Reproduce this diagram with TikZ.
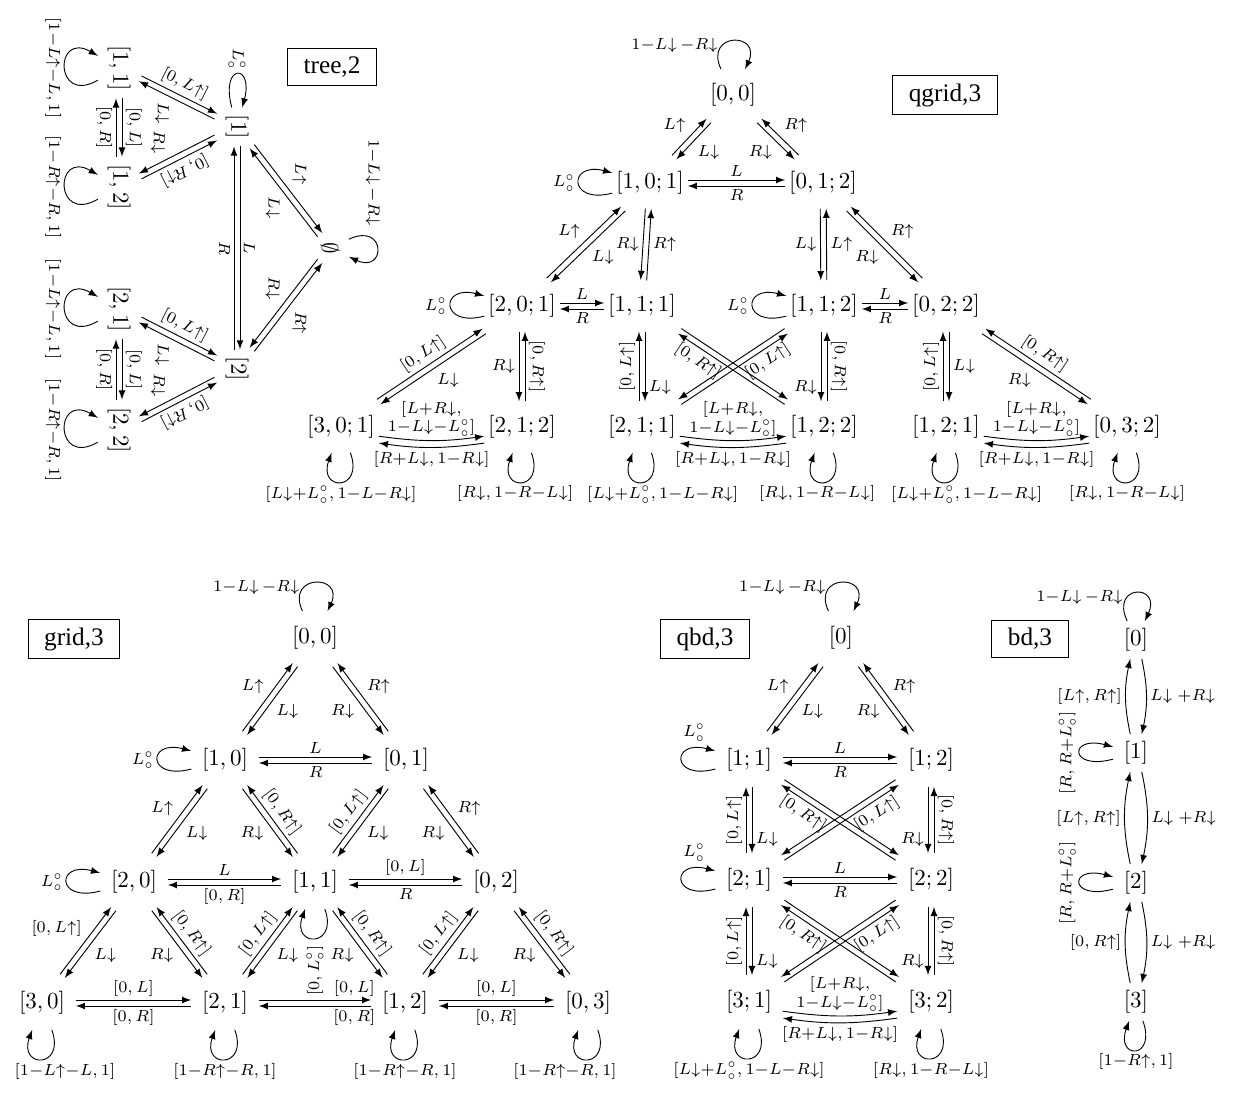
\documentclass[tikz,border=0pt]{standalone}
\usepackage{fontspec}
\newfontfamily\tagfont{Liberation Serif}
\usetikzlibrary{calc}

\begin{document}
\begin{tikzpicture}[x=0.435pt, y=0.435pt, >=latex,
	pl/.style 2 args={->, transform canvas={shift={($(#1)!1.3pt!90:(#2)-(#1)$)}}},
	pr/.style 2 args={->, transform canvas={shift={($(#1)!1.3pt!-90:(#2)-(#1)$)}}},
	lpup/.style={out=115, in=65, distance=18pt},
	lpleft/.style={out=195, in=165, distance=20pt},
	lpdown/.style={out=-70, in=-110, distance=18pt}]
	\tikzstyle{st} = [inner xsep=4.5pt, inner ysep=6.5pt]
	\tikzstyle{qst} = [inner xsep=1.5pt, inner ysep=6pt]
	\tikzstyle{tst} = [inner xsep=3pt, inner ysep=4pt]
	\tikzstyle{bst} = [inner xsep=4.5pt, inner ysep=3pt]
	\tikzstyle{tag} = [draw, font=\tagfont\fontsize{11}{13}\selectfont, inner xsep=7pt, minimum height=16pt]
	\tikzstyle{lbl} = [font=\scriptsize, inner sep=1.5pt]
	\tikzstyle{vl} = [lbl, rotate=90, anchor=south]
	\tikzstyle{vr} = [lbl, rotate=-90, anchor=south]
	\useasboundingbox (0,0) rectangle (1239,-1095);

	% tree,2 (turned on its side)
	\node[tag] at (332,-67) {tree,2};
	\begin{scope}[rotate=-90, transform shape]
		\node[tst] (t0) at (248,330) {$\emptyset$};
		\node[tst] (t1) at (127,237) {$[1]$};
		\node[tst] (t2) at (369,237) {$[2]$};
		\node[tst] (t11) at (68,119) {$[1,1]$};
		\node[tst] (t12) at (187,119) {$[1,2]$};
		\node[tst] (t21) at (309,119) {$[2,1]$};
		\node[tst] (t22) at (430,119) {$[2,2]$};
		\draw[->] (t0) to[lpup] node[lbl,left=4pt,pos=0.3]{$1{-}L{\downarrow}\,{-}R{\downarrow}$} (t0);
		\draw[->] (t1) to[lpleft] node[lbl,left]{$L^\circ_\circ$} (t1);
		\draw[pl={t1}{t0}] (t1) -- node[lbl,above left]{$L{\uparrow}$} (t0);
		\draw[pl={t0}{t1}] (t0) -- node[lbl,below right]{$L{\downarrow}$} (t1);
		\draw[pr={t2}{t0}] (t2) -- node[lbl,above right]{$R{\uparrow}$} (t0);
		\draw[pr={t0}{t2}] (t0) -- node[lbl,below left]{$R{\downarrow}$} (t2);
		\draw[pl={t1}{t2}] (t1) -- node[lbl,above]{$L$} (t2);
		\draw[pl={t2}{t1}] (t2) -- node[lbl,below]{$R$} (t1);
		\draw[pl={t11}{t1}] (t11) -- node[lbl,above,rotate=63]{$[0,L{\uparrow}]$} (t1);
		\draw[pl={t1}{t11}] (t1) -- node[lbl,below right,pos=0.55]{$L{\downarrow}$} (t11);
		\draw[pr={t12}{t1}] (t12) -- node[lbl,above,rotate=-63]{$[0,R{\uparrow}]$} (t1);
		\draw[pr={t1}{t12}] (t1) -- node[lbl,below left,pos=0.6]{$R{\downarrow}$} (t12);
		\draw[pl={t11}{t12}] (t11) -- node[lbl,above]{$[0,L]$} (t12);
		\draw[pl={t12}{t11}] (t12) -- node[lbl,below]{$[0,R]$} (t11);
		\draw[pl={t21}{t2}] (t21) -- node[lbl,above,rotate=63]{$[0,L{\uparrow}]$} (t2);
		\draw[pl={t2}{t21}] (t2) -- node[lbl,below right,pos=0.55]{$L{\downarrow}$} (t21);
		\draw[pr={t22}{t2}] (t22) -- node[lbl,above,rotate=-63]{$[0,R{\uparrow}]$} (t2);
		\draw[pr={t2}{t22}] (t2) -- node[lbl,below left,pos=0.6]{$R{\downarrow}$} (t22);
		\draw[pl={t21}{t22}] (t21) -- node[lbl,above]{$[0,L]$} (t22);
		\draw[pl={t22}{t21}] (t22) -- node[lbl,below]{$[0,R]$} (t21);
		\draw[->] (t11) to[out=-60, in=-120, distance=22pt] node[lbl,below]{$[1{-}L{\uparrow}{-}L, 1]$} (t11);
		\draw[->] (t12) to[out=-60, in=-120, distance=22pt] node[lbl,below]{$[1{-}R{\uparrow}{-}R, 1]$} (t12);
		\draw[->] (t21) to[out=-60, in=-120, distance=22pt] node[lbl,below]{$[1{-}L{\uparrow}{-}L, 1]$} (t21);
		\draw[->] (t22) to[out=-60, in=-120, distance=22pt] node[lbl,below]{$[1{-}R{\uparrow}{-}R, 1]$} (t22);
	\end{scope}

	% qgrid,3
	\node[tag] at (945,-95) {qgrid,3};
	\node[qst] (q00) at (733,-95) {$[0,0]$};
	\node[qst] (q101) at (650,-183) {$[1,0;1]$};
	\node[qst] (q012) at (823,-183) {$[0,1;2]$};
	\node[qst] (q201) at (522,-306) {$[2,0;1]$};
	\node[qst] (q111) at (642,-306) {$[1,1;1]$};
	\node[qst] (q112) at (824,-306) {$[1,1;2]$};
	\node[qst] (q022) at (946,-306) {$[0,2;2]$};
	\node[qst] (q301) at (341,-427) {$[3,0;1]$};
	\node[qst] (q212) at (522,-427) {$[2,1;2]$};
	\node[qst] (q211) at (642,-427) {$[2,1;1]$};
	\node[qst] (q122) at (824,-427) {$[1,2;2]$};
	\node[qst] (q121) at (946,-427) {$[1,2;1]$};
	\node[qst] (q032) at (1127,-427) {$[0,3;2]$};
	\draw[->] (q00) to[lpup] node[lbl,left,pos=0.3]{$1{-}L{\downarrow}\,{-}R{\downarrow}$} (q00);
	\draw[pl={q101}{q00}] (q101) -- node[lbl,above left]{$L{\uparrow}$} (q00);
	\draw[pl={q00}{q101}] (q00) -- node[lbl,below right]{$L{\downarrow}$} (q101);
	\draw[pr={q012}{q00}] (q012) -- node[lbl,above right]{$R{\uparrow}$} (q00);
	\draw[pr={q00}{q012}] (q00) -- node[lbl,below left]{$R{\downarrow}$} (q012);
	\draw[pl={q101}{q012}] (q101) -- node[lbl,above]{$L$} (q012);
	\draw[pl={q012}{q101}] (q012) -- node[lbl,below]{$R$} (q101);
	\draw[->] (q101) to[lpleft] node[lbl,left]{$L^\circ_\circ$} (q101);
	\draw[pl={q201}{q101}] (q201) -- node[lbl,above left]{$L{\uparrow}$} (q101);
	\draw[pl={q101}{q201}] (q101) -- node[lbl,below right]{$L{\downarrow}$} (q201);
	\draw[pr={q101}{q111}] (q101) -- node[lbl,left]{$R{\downarrow}$} (q111);
	\draw[pr={q111}{q101}] (q111) -- node[lbl,right]{$R{\uparrow}$} (q101);
	\draw[pr={q012}{q112}] (q012) -- node[lbl,left]{$L{\downarrow}$} (q112);
	\draw[pr={q112}{q012}] (q112) -- node[lbl,right]{$L{\uparrow}$} (q012);
	\draw[pr={q022}{q012}] (q022) -- node[lbl,above right]{$R{\uparrow}$} (q012);
	\draw[pr={q012}{q022}] (q012) -- node[lbl,below left]{$R{\downarrow}$} (q022);
	\draw[->] (q201) to[lpleft] node[lbl,left]{$L^\circ_\circ$} (q201);
	\draw[->] (q112) to[lpleft] node[lbl,left]{$L^\circ_\circ$} (q112);
	\draw[pl={q201}{q111}] (q201) -- node[lbl,above]{$L$} (q111);
	\draw[pl={q111}{q201}] (q111) -- node[lbl,below]{$R$} (q201);
	\draw[pl={q112}{q022}] (q112) -- node[lbl,above]{$L$} (q022);
	\draw[pl={q022}{q112}] (q022) -- node[lbl,below]{$R$} (q112);
	\draw[pl={q301}{q201}] (q301) -- node[lbl,sloped,above]{$[0,L{\uparrow}]$} (q201);
	\draw[pl={q201}{q301}] (q201) -- node[lbl,below right]{$L{\downarrow}$} (q301);
	\draw[pr={q201}{q212}] (q201) -- node[lbl,left]{$R{\downarrow}$} (q212);
	\draw[pr={q212}{q201}] (q212) -- node[vr]{$[0,R{\uparrow}]$} (q201);
	\draw[pl={q211}{q111}] (q211) -- node[vl]{$[0,L{\uparrow}]$} (q111);
	\draw[pl={q111}{q211}] (q111) -- node[lbl,right,pos=0.8]{$L{\downarrow}$} (q211);
	\draw[pl={q122}{q111}] (q122) -- node[lbl,sloped,below,pos=0.75]{$[0,R{\uparrow}]$} (q111);
	\draw[pl={q111}{q122}] (q111) -- (q122);
	\draw[pr={q211}{q112}] (q211) -- node[lbl,sloped,below,pos=0.75]{$[0,L{\uparrow}]$} (q112);
	\draw[pr={q112}{q211}] (q112) -- (q211);
	\draw[pr={q112}{q122}] (q112) -- node[lbl,left,pos=0.8]{$R{\downarrow}$} (q122);
	\draw[pr={q122}{q112}] (q122) -- node[vr]{$[0,R{\uparrow}]$} (q112);
	\draw[pl={q121}{q022}] (q121) -- node[vl]{$[0,L{\uparrow}]$} (q022);
	\draw[pl={q022}{q121}] (q022) -- node[lbl,right]{$L{\downarrow}$} (q121);
	\draw[pr={q032}{q022}] (q032) -- node[lbl,sloped,above]{$[0,R{\uparrow}]$} (q022);
	\draw[pr={q022}{q032}] (q022) -- node[lbl,below left]{$R{\downarrow}$} (q032);
	\draw[->] ([yshift=-4pt]q301.east) to[bend right=8] node[lbl,above,align=center]{$[L{+}R{\downarrow},$\\$1{-}L{\downarrow}{-}L^\circ_\circ]$} ([yshift=-4pt]q212.west);
	\draw[->] ([yshift=-7pt]q212.west) to[bend left=8] node[lbl,below]{$[R{+}L{\downarrow}, 1{-}R{\downarrow}]$} ([yshift=-7pt]q301.east);
	\draw[->] ([yshift=-4pt]q211.east) to[bend right=8] node[lbl,above,align=center]{$[L{+}R{\downarrow},$\\$1{-}L{\downarrow}{-}L^\circ_\circ]$} ([yshift=-4pt]q122.west);
	\draw[->] ([yshift=-7pt]q122.west) to[bend left=8] node[lbl,below]{$[R{+}L{\downarrow}, 1{-}R{\downarrow}]$} ([yshift=-7pt]q211.east);
	\draw[->] ([yshift=-4pt]q121.east) to[bend right=8] node[lbl,above,align=center]{$[L{+}R{\downarrow},$\\$1{-}L{\downarrow}{-}L^\circ_\circ]$} ([yshift=-4pt]q032.west);
	\draw[->] ([yshift=-7pt]q032.west) to[bend left=8] node[lbl,below]{$[R{+}L{\downarrow}, 1{-}R{\downarrow}]$} ([yshift=-7pt]q121.east);
	\draw[->] (q301) to[lpdown] node[lbl,below]{$[L{\downarrow}{+}L^\circ_\circ, 1{-}L{-}R{\downarrow}]$} (q301);
	\draw[->] (q212) to[lpdown] node[lbl,below,xshift=-3pt]{$[R{\downarrow}, 1{-}R{-}L{\downarrow}]$} (q212);
	\draw[->] (q211) to[lpdown] node[lbl,below,xshift=9pt]{$[L{\downarrow}{+}L^\circ_\circ, 1{-}L{-}R{\downarrow}]$} (q211);
	\draw[->] (q122) to[lpdown] node[lbl,below,xshift=-3pt]{$[R{\downarrow}, 1{-}R{-}L{\downarrow}]$} (q122);
	\draw[->] (q121) to[lpdown] node[lbl,below,xshift=9pt]{$[L{\downarrow}{+}L^\circ_\circ, 1{-}L{-}R{\downarrow}]$} (q121);
	\draw[->] (q032) to[lpdown] node[lbl,below]{$[R{\downarrow}, 1{-}R{-}L{\downarrow}]$} (q032);

	% grid,3
	\node[tag] at (74,-639) {grid,3};
	\node[st] (g00) at (315,-638) {$[0,0]$};
	\node[st] (g10) at (225,-760) {$[1,0]$};
	\node[st] (g01) at (406,-760) {$[0,1]$};
	\node[st] (g20) at (134,-882) {$[2,0]$};
	\node[st] (g11) at (315,-882) {$[1,1]$};
	\node[st] (g02) at (496,-882) {$[0,2]$};
	\node[st] (g30) at (42,-1003) {$[3,0]$};
	\node[st] (g21) at (225,-1003) {$[2,1]$};
	\node[st] (g12) at (405,-1003) {$[1,2]$};
	\node[st] (g03) at (588,-1003) {$[0,3]$};
	\draw[->] (g00) to[lpup] node[lbl,left,pos=0.3]{$1{-}L{\downarrow}\,{-}R{\downarrow}$} (g00);
	\draw[pl={g10}{g00}] (g10) -- node[lbl,above left]{$L{\uparrow}$} (g00);
	\draw[pl={g00}{g10}] (g00) -- node[lbl,below right]{$L{\downarrow}$} (g10);
	\draw[pr={g01}{g00}] (g01) -- node[lbl,above right]{$R{\uparrow}$} (g00);
	\draw[pr={g00}{g01}] (g00) -- node[lbl,below left]{$R{\downarrow}$} (g01);
	\draw[pl={g10}{g01}] (g10) -- node[lbl,above]{$L$} (g01);
	\draw[pl={g01}{g10}] (g01) -- node[lbl,below]{$R$} (g10);
	\draw[->] (g10) to[lpleft] node[lbl,left]{$L^\circ_\circ$} (g10);
	\draw[pl={g20}{g10}] (g20) -- node[lbl,above left]{$L{\uparrow}$} (g10);
	\draw[pl={g10}{g20}] (g10) -- node[lbl,below right]{$L{\downarrow}$} (g20);
	\draw[pr={g11}{g10}] (g11) -- node[lbl,sloped,above]{$[0,R{\uparrow}]$} (g10);
	\draw[pr={g10}{g11}] (g10) -- node[lbl,below left]{$R{\downarrow}$} (g11);
	\draw[pl={g11}{g01}] (g11) -- node[lbl,sloped,above]{$[0,L{\uparrow}]$} (g01);
	\draw[pl={g01}{g11}] (g01) -- node[lbl,below right]{$L{\downarrow}$} (g11);
	\draw[pr={g02}{g01}] (g02) -- node[lbl,above right]{$R{\uparrow}$} (g01);
	\draw[pr={g01}{g02}] (g01) -- node[lbl,below left]{$R{\downarrow}$} (g02);
	\draw[->] (g20) to[lpleft] node[lbl,left]{$L^\circ_\circ$} (g20);
	\draw[pl={g20}{g11}] (g20) -- node[lbl,above]{$L$} (g11);
	\draw[pl={g11}{g20}] (g11) -- node[lbl,below]{$[0,R]$} (g20);
	\draw[pl={g11}{g02}] (g11) -- node[lbl,above]{$[0,L]$} (g02);
	\draw[pl={g02}{g11}] (g02) -- node[lbl,below]{$R$} (g11);
	\draw[->] (g11) to[lpdown] node[lbl,rotate=90,anchor=east,inner sep=3pt]{$[0,L^\circ_\circ]$} (g11);
	\draw[pl={g30}{g20}] (g30) -- node[lbl,above left]{$[0,L{\uparrow}]$} (g20);
	\draw[pl={g20}{g30}] (g20) -- node[lbl,below right]{$L{\downarrow}$} (g30);
	\draw[pr={g21}{g20}] (g21) -- node[lbl,sloped,above]{$[0,R{\uparrow}]$} (g20);
	\draw[pr={g20}{g21}] (g20) -- node[lbl,below left]{$R{\downarrow}$} (g21);
	\draw[pl={g21}{g11}] (g21) -- node[lbl,sloped,above]{$[0,L{\uparrow}]$} (g11);
	\draw[pl={g11}{g21}] (g11) -- node[lbl,below right]{$L{\downarrow}$} (g21);
	\draw[pr={g12}{g11}] (g12) -- node[lbl,sloped,above]{$[0,R{\uparrow}]$} (g11);
	\draw[pr={g11}{g12}] (g11) -- node[lbl,below left]{$R{\downarrow}$} (g12);
	\draw[pl={g12}{g02}] (g12) -- node[lbl,sloped,above]{$[0,L{\uparrow}]$} (g02);
	\draw[pl={g02}{g12}] (g02) -- node[lbl,below right]{$L{\downarrow}$} (g12);
	\draw[pr={g03}{g02}] (g03) -- node[lbl,sloped,above]{$[0,R{\uparrow}]$} (g02);
	\draw[pr={g02}{g03}] (g02) -- node[lbl,below left]{$R{\downarrow}$} (g03);
	\draw[pl={g30}{g21}] (g30) -- node[lbl,above]{$[0,L]$} (g21);
	\draw[pl={g21}{g30}] (g21) -- node[lbl,below]{$[0,R]$} (g30);
	\draw[pl={g21}{g12}] (g21) -- node[lbl,above,pos=0.85]{$[0,L]$} (g12);
	\draw[pl={g12}{g21}] (g12) -- node[lbl,below,pos=0.15]{$[0,R]$} (g21);
	\draw[pl={g12}{g03}] (g12) -- node[lbl,above]{$[0,L]$} (g03);
	\draw[pl={g03}{g12}] (g03) -- node[lbl,below]{$[0,R]$} (g12);
	\draw[->] (g30) to[lpdown] node[lbl,below,xshift=10pt]{$[1{-}L{\uparrow}{-}L, 1]$} (g30);
	\draw[->] (g21) to[lpdown] node[lbl,below]{$[1{-}R{\uparrow}{-}R, 1]$} (g21);
	\draw[->] (g12) to[lpdown] node[lbl,below]{$[1{-}R{\uparrow}{-}R, 1]$} (g12);
	\draw[->] (g03) to[lpdown] node[lbl,below,xshift=-10pt]{$[1{-}R{\uparrow}{-}R, 1]$} (g03);

	% qbd,3
	\node[tag] at (705,-639) {qbd,3};
	\node[st] (b0) at (841,-638) {$[0]$};
	\node[st] (b11) at (749,-760) {$[1;1]$};
	\node[st] (b12) at (931,-760) {$[1;2]$};
	\node[st] (b21) at (749,-880) {$[2;1]$};
	\node[st] (b22) at (931,-880) {$[2;2]$};
	\node[st] (b31) at (749,-1002) {$[3;1]$};
	\node[st] (b32) at (931,-1002) {$[3;2]$};
	\draw[->] (b0) to[lpup] node[lbl,left,pos=0.3]{$1{-}L{\downarrow}\,{-}R{\downarrow}$} (b0);
	\draw[pl={b11}{b0}] (b11) -- node[lbl,above left]{$L{\uparrow}$} (b0);
	\draw[pl={b0}{b11}] (b0) -- node[lbl,below right]{$L{\downarrow}$} (b11);
	\draw[pr={b12}{b0}] (b12) -- node[lbl,above right]{$R{\uparrow}$} (b0);
	\draw[pr={b0}{b12}] (b0) -- node[lbl,below left]{$R{\downarrow}$} (b12);
	\draw[->] (b11) to[lpleft] node[lbl,above,pos=0.7,yshift=3pt,xshift=3pt]{$L^\circ_\circ$} (b11);
	\draw[->] (b21) to[lpleft] node[lbl,above,pos=0.7,yshift=3pt,xshift=3pt]{$L^\circ_\circ$} (b21);
	\draw[pl={b11}{b12}] (b11) -- node[lbl,above]{$L$} (b12);
	\draw[pl={b12}{b11}] (b12) -- node[lbl,below]{$R$} (b11);
	\draw[pl={b21}{b22}] (b21) -- node[lbl,above]{$L$} (b22);
	\draw[pl={b22}{b21}] (b22) -- node[lbl,below]{$R$} (b21);
	\draw[pl={b21}{b11}] (b21) -- node[vl]{$[0,L{\uparrow}]$} (b11);
	\draw[pl={b11}{b21}] (b11) -- node[lbl,right,pos=0.8]{$L{\downarrow}$} (b21);
	\draw[pr={b12}{b22}] (b12) -- node[lbl,left,pos=0.8]{$R{\downarrow}$} (b22);
	\draw[pr={b22}{b12}] (b22) -- node[vr]{$[0,R{\uparrow}]$} (b12);
	\draw[pl={b31}{b21}] (b31) -- node[vl]{$[0,L{\uparrow}]$} (b21);
	\draw[pl={b21}{b31}] (b21) -- node[lbl,right,pos=0.8]{$L{\downarrow}$} (b31);
	\draw[pr={b22}{b32}] (b22) -- node[lbl,left,pos=0.8]{$R{\downarrow}$} (b32);
	\draw[pr={b32}{b22}] (b32) -- node[vr]{$[0,R{\uparrow}]$} (b22);
	\draw[pl={b22}{b11}] (b22) -- node[lbl,sloped,below,pos=0.75]{$[0,R{\uparrow}]$} (b11);
	\draw[pl={b11}{b22}] (b11) -- (b22);
	\draw[pr={b21}{b12}] (b21) -- node[lbl,sloped,below,pos=0.75]{$[0,L{\uparrow}]$} (b12);
	\draw[pr={b12}{b21}] (b12) -- (b21);
	\draw[pl={b32}{b21}] (b32) -- node[lbl,sloped,below,pos=0.75]{$[0,R{\uparrow}]$} (b21);
	\draw[pl={b21}{b32}] (b21) -- (b32);
	\draw[pr={b31}{b22}] (b31) -- node[lbl,sloped,below,pos=0.75]{$[0,L{\uparrow}]$} (b22);
	\draw[pr={b22}{b31}] (b22) -- (b31);
	\draw[->] ([yshift=-4pt]b31.east) to[bend right=8] node[lbl,above,align=center]{$[L{+}R{\downarrow},$\\$1{-}L{\downarrow}{-}L^\circ_\circ]$} ([yshift=-4pt]b32.west);
	\draw[->] ([yshift=-7pt]b32.west) to[bend left=8] node[lbl,below]{$[R{+}L{\downarrow},1{-}R{\downarrow}]$} ([yshift=-7pt]b31.east);
	\draw[->] (b31) to[lpdown] node[lbl,below]{$[L{\downarrow}{+}L^\circ_\circ, 1{-}L{-}R{\downarrow}]$} (b31);
	\draw[->] (b32) to[lpdown] node[lbl,below]{$[R{\downarrow}, 1{-}R{-}L{\downarrow}]$} (b32);

	% bd,3
	\node[tag] at (1030,-639) {bd,3};
	\node[bst] (d0) at (1136,-640) {$[0]$};
	\node[bst] (d1) at (1136,-753) {$[1]$};
	\node[bst] (d2) at (1136,-883) {$[2]$};
	\node[bst] (d3) at (1136,-1002) {$[3]$};
	\draw[->] (d0) to[lpup] node[lbl,left,pos=0.3]{$1{-}L{\downarrow}\,{-}R{\downarrow}$} (d0);
	\draw[->] ([xshift=-2.5pt]d1.north) to[bend left=12] node[lbl,left]{$[L{\uparrow}, R{\uparrow}]$} ([xshift=-2.5pt]d0.south);
	\draw[->] ([xshift=2.5pt]d0.south) to[bend left=12] node[lbl,right]{$L{\downarrow}\;{+}R{\downarrow}$} ([xshift=2.5pt]d1.north);
	\draw[->] ([xshift=-2.5pt]d2.north) to[bend left=12] node[lbl,left]{$[L{\uparrow}, R{\uparrow}]$} ([xshift=-2.5pt]d1.south);
	\draw[->] ([xshift=2.5pt]d1.south) to[bend left=12] node[lbl,right]{$L{\downarrow}\;{+}R{\downarrow}$} ([xshift=2.5pt]d2.north);
	\draw[->] ([xshift=-2.5pt]d3.north) to[bend left=12] node[lbl,left]{$[0, R{\uparrow}]$} ([xshift=-2.5pt]d2.south);
	\draw[->] ([xshift=2.5pt]d2.south) to[bend left=12] node[lbl,right]{$L{\downarrow}\;{+}R{\downarrow}$} ([xshift=2.5pt]d3.north);
	\draw[->] (d1) to[lpleft] node[vl]{$[R, R{+}L^\circ_\circ]$} (d1);
	\draw[->] (d2) to[lpleft] node[vl]{$[R, R{+}L^\circ_\circ]$} (d2);
	\draw[->] (d3) to[lpdown] node[lbl,below]{$[1{-}R{\uparrow}, 1]$} (d3);
\end{tikzpicture}
\end{document}
